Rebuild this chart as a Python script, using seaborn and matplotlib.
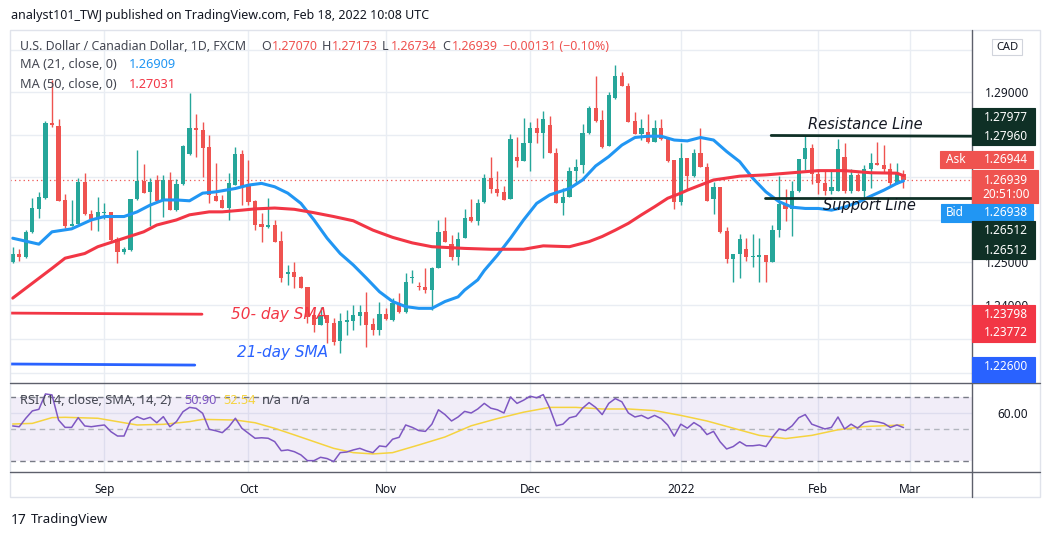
import numpy as np
import pandas as pd
import matplotlib
matplotlib.use("Agg")
import matplotlib.pyplot as plt
from matplotlib.patches import Rectangle
from matplotlib.lines import Line2D
import seaborn as sns

# DATA ===========================================================================================================

dates = pd.bdate_range("2021-08-12", "2022-02-18")

opens = [1.2499, 1.2520, 1.2512, 1.2570, 1.2625, 1.2650, 1.2826, 1.2820, 1.2645, 1.2585,
         1.2589, 1.2689, 1.2612, 1.2601, 1.2616, 1.2617, 1.2554, 1.2524, 1.2528, 1.2648,
         1.2691, 1.2664, 1.2693, 1.2644, 1.2693, 1.2622, 1.2683, 1.2754, 1.2815, 1.2810,
         1.2771, 1.2656, 1.2646, 1.2628, 1.2681, 1.2753, 1.2679, 1.2644, 1.2589, 1.2582,
         1.2587, 1.2549, 1.2472, 1.2477, 1.2465, 1.2442, 1.2375, 1.2352, 1.2375, 1.2356,
         1.2313, 1.2360, 1.2362, 1.2374, 1.2383, 1.2354, 1.2340, 1.2378, 1.2364, 1.2403,
         1.2383, 1.2462, 1.2444, 1.2442, 1.2433, 1.2485, 1.2573, 1.2542, 1.2511, 1.2556,
         1.2605, 1.2597, 1.2642, 1.2697, 1.2672, 1.2664, 1.2648, 1.2746, 1.2738, 1.2779,
         1.2815, 1.2804, 1.2822, 1.2756, 1.2638, 1.2652, 1.2713, 1.2728, 1.2803, 1.2862,
         1.2834, 1.2773, 1.2887, 1.2938, 1.2914, 1.2832, 1.2801, 1.2805, 1.2783, 1.2815,
         1.2789, 1.2740, 1.2642, 1.2744, 1.2702, 1.2756, 1.2724, 1.2648, 1.2676, 1.2573,
         1.2506, 1.2520, 1.2531, 1.2511, 1.2511, 1.2517, 1.2501, 1.2575, 1.2636, 1.2624,
         1.2667, 1.2742, 1.2768, 1.2707, 1.2685, 1.2666, 1.2666, 1.2746, 1.2666, 1.2705,
         1.2668, 1.2718, 1.2734, 1.2728, 1.2718, 1.2685, 1.27070]
highs = [1.2535, 1.2531, 1.2575, 1.2650, 1.2664, 1.2832, 1.2928, 1.2836, 1.2661, 1.2646,
         1.2697, 1.2709, 1.2622, 1.2654, 1.2640, 1.2618, 1.2560, 1.2536, 1.2648, 1.2764,
         1.2730, 1.2697, 1.2705, 1.2705, 1.2711, 1.2695, 1.2775, 1.2898, 1.2848, 1.2830,
         1.2799, 1.2732, 1.2658, 1.2709, 1.2771, 1.2764, 1.2740, 1.2646, 1.2615, 1.2650,
         1.2600, 1.2573, 1.2493, 1.2499, 1.2466, 1.2442, 1.2387, 1.2395, 1.2375, 1.2368,
         1.2381, 1.2387, 1.2399, 1.2399, 1.2430, 1.2368, 1.2407, 1.2391, 1.2415, 1.2427,
         1.2473, 1.2481, 1.2454, 1.2485, 1.2489, 1.2599, 1.2605, 1.2564, 1.2571, 1.2624,
         1.2648, 1.2648, 1.2707, 1.2748, 1.2713, 1.2679, 1.2801, 1.2793, 1.2838, 1.2830,
         1.2838, 1.2855, 1.2844, 1.2768, 1.2673, 1.2723, 1.2742, 1.2824, 1.2867, 1.2938,
         1.2858, 1.2901, 1.2964, 1.2948, 1.2922, 1.2854, 1.2836, 1.2848, 1.2834, 1.2836,
         1.2789, 1.2740, 1.2779, 1.2744, 1.2767, 1.2815, 1.2732, 1.2689, 1.2677, 1.2583,
         1.2520, 1.2566, 1.2557, 1.2565, 1.2556, 1.2517, 1.2587, 1.2702, 1.2671, 1.2691,
         1.2742, 1.2797, 1.2778, 1.2718, 1.2713, 1.2716, 1.2789, 1.2781, 1.2718, 1.2709,
         1.2728, 1.2756, 1.2783, 1.2775, 1.2734, 1.2734, 1.27173]
lows = [1.2497, 1.2502, 1.2510, 1.2568, 1.2603, 1.2648, 1.2817, 1.2643, 1.2581, 1.2585,
        1.2589, 1.2611, 1.2575, 1.2572, 1.2601, 1.2550, 1.2497, 1.2520, 1.2527, 1.2646,
        1.2663, 1.2585, 1.2644, 1.2607, 1.2622, 1.2620, 1.2681, 1.2752, 1.2748, 1.2701,
        1.2638, 1.2644, 1.2626, 1.2599, 1.2681, 1.2634, 1.2634, 1.2575, 1.2548, 1.2580,
        1.2548, 1.2454, 1.2446, 1.2438, 1.2438, 1.2356, 1.2336, 1.2352, 1.2309, 1.2305,
        1.2285, 1.2328, 1.2339, 1.2352, 1.2301, 1.2328, 1.2328, 1.2364, 1.2362, 1.2379,
        1.2381, 1.2450, 1.2434, 1.2428, 1.2387, 1.2485, 1.2546, 1.2505, 1.2493, 1.2556,
        1.2595, 1.2587, 1.2640, 1.2663, 1.2655, 1.2646, 1.2648, 1.2724, 1.2738, 1.2715,
        1.2781, 1.2745, 1.2756, 1.2638, 1.2611, 1.2652, 1.2685, 1.2709, 1.2801, 1.2830,
        1.2768, 1.2773, 1.2883, 1.2913, 1.2830, 1.2801, 1.2787, 1.2781, 1.2783, 1.2787,
        1.2736, 1.2624, 1.2634, 1.2669, 1.2701, 1.2724, 1.2644, 1.2613, 1.2569, 1.2497,
        1.2454, 1.2462, 1.2503, 1.2489, 1.2452, 1.2454, 1.2501, 1.2558, 1.2597, 1.2561,
        1.2664, 1.2717, 1.2684, 1.2660, 1.2658, 1.2660, 1.2666, 1.2662, 1.2663, 1.2666,
        1.2646, 1.2673, 1.2728, 1.2709, 1.2677, 1.2684, 1.26734]
closes = [1.2520, 1.2512, 1.2570, 1.2626, 1.2652, 1.2826, 1.2822, 1.2644, 1.2585, 1.2589,
          1.2688, 1.2612, 1.2601, 1.2618, 1.2618, 1.2552, 1.2524, 1.2531, 1.2648, 1.2691,
          1.2663, 1.2688, 1.2644, 1.2693, 1.2622, 1.2683, 1.2773, 1.2815, 1.2810, 1.2769,
          1.2658, 1.2644, 1.2628, 1.2685, 1.2753, 1.2676, 1.2642, 1.2587, 1.2582, 1.2587,
          1.2548, 1.2463, 1.2477, 1.2464, 1.2440, 1.2371, 1.2352, 1.2375, 1.2356, 1.2311,
          1.2361, 1.2364, 1.2375, 1.2383, 1.2352, 1.2340, 1.2378, 1.2365, 1.2403, 1.2383,
          1.2452, 1.2465, 1.2441, 1.2433, 1.2485, 1.2571, 1.2548, 1.2511, 1.2555, 1.2603,
          1.2597, 1.2638, 1.2697, 1.2671, 1.2663, 1.2646, 1.2789, 1.2738, 1.2779, 1.2815,
          1.2804, 1.2836, 1.2756, 1.2638, 1.2652, 1.2713, 1.2723, 1.2803, 1.2862, 1.2832,
          1.2770, 1.2893, 1.2938, 1.2913, 1.2830, 1.2801, 1.2815, 1.2783, 1.2815, 1.2789,
          1.2738, 1.2642, 1.2744, 1.2702, 1.2756, 1.2724, 1.2644, 1.2676, 1.2571, 1.2506,
          1.2520, 1.2554, 1.2511, 1.2513, 1.2517, 1.2501, 1.2575, 1.2636, 1.2624, 1.2667,
          1.2742, 1.2768, 1.2707, 1.2685, 1.2666, 1.2676, 1.2765, 1.2666, 1.2705, 1.2668,
          1.2718, 1.2734, 1.2728, 1.2718, 1.2685, 1.2709, 1.26939]

# moving averages as drawn on the chart (bar number, value)
ma21_day = [0, 4, 6, 9, 12, 14, 17, 19, 21, 23, 25, 27, 29, 31, 34, 36, 38, 40, 42, 44, 46, 48, 50,
            52, 54, 56, 58, 60, 62, 64, 66, 68, 69, 71, 72, 74, 76, 78, 80, 82, 85, 87, 89, 91, 93,
            95, 97, 99, 101, 103, 105, 107, 109, 111, 113, 115, 117, 119, 121, 123, 125, 127, 129,
            131, 133, 135, 136]
ma21 = [1.2556, 1.2542, 1.2571, 1.2578, 1.2599, 1.2607, 1.2607, 1.2618, 1.2634, 1.2646, 1.2646,
        1.2644, 1.2662, 1.2665, 1.2673, 1.2681, 1.2685, 1.2677, 1.2662, 1.2638, 1.2599, 1.2556,
        1.2520, 1.2493, 1.2462, 1.2430, 1.2407, 1.2395, 1.2391, 1.2391, 1.2407, 1.2418, 1.2434,
        1.2458, 1.2480, 1.2516, 1.2556, 1.2599, 1.2638, 1.2658, 1.2673, 1.2693, 1.2726, 1.2748,
        1.2775, 1.2793, 1.2796, 1.2796, 1.2787, 1.2785, 1.2793, 1.2787, 1.2760, 1.2736, 1.2697,
        1.2665, 1.2642, 1.2629, 1.2626, 1.2626, 1.2622, 1.2629, 1.2640, 1.2655, 1.2669, 1.2685,
        1.26909]
ma50_day = [0, 3, 6, 8, 11, 13, 17, 20, 22, 25, 27, 30, 32, 35, 37, 40, 43, 46, 49, 52, 55, 58,
            61, 64, 69, 73, 78, 81, 85, 88, 90, 92, 94, 96, 98, 100, 102, 103, 107, 111, 115, 119,
            123, 127, 131, 135, 136]
ma50 = [1.2415, 1.2450, 1.2485, 1.2509, 1.2520, 1.2536, 1.2556, 1.2571, 1.2587, 1.2599, 1.2611,
        1.2618, 1.2618, 1.2622, 1.2625, 1.2627, 1.2624, 1.2616, 1.2607, 1.2597, 1.2575, 1.2558,
        1.2545, 1.2536, 1.2532, 1.2530, 1.2530, 1.2538, 1.2536, 1.2548, 1.2560, 1.2575, 1.2591,
        1.2611, 1.2630, 1.2650, 1.2662, 1.2669, 1.2693, 1.2702, 1.2705, 1.2710, 1.2715, 1.2715,
        1.2710, 1.2709, 1.27031]

rsi = [51.9, 51.4, 56.7, 61.3, 62.3, 71.9, 71.3, 55.6, 51.0, 51.0,
       57.1, 51.9, 51.4, 52.0, 52.5, 48.3, 45.6, 45.6, 55.2, 57.7,
       56.0, 57.3, 53.9, 57.7, 51.4, 54.6, 60.8, 63.5, 62.9, 59.8,
       49.8, 48.9, 47.7, 51.4, 56.7, 50.4, 47.3, 44.2, 44.5, 44.2,
       42.1, 36.4, 36.9, 35.8, 33.8, 30.2, 30.2, 32.3, 31.5, 29.6,
       35.2, 35.6, 36.9, 37.9, 36.3, 35.2, 39.4, 38.9, 43.6, 44.8,
       52.5, 51.0, 49.0, 48.5, 53.0, 62.0, 59.0, 55.0, 57.5, 61.0,
       60.0, 62.5, 66.0, 63.0, 62.0, 60.0, 70.0, 66.0, 68.0, 70.5,
       69.5, 71.5, 63.0, 52.0, 53.0, 57.0, 58.0, 63.0, 66.5, 63.5,
       59.0, 66.0, 69.0, 67.0, 60.0, 57.5, 58.5, 56.5, 58.5, 56.5,
       52.5, 45.5, 53.0, 50.5, 54.0, 51.5, 46.5, 48.5, 42.0, 37.5,
       39.0, 42.0, 39.5, 39.5, 40.0, 39.0, 45.0, 50.0, 49.0, 52.0,
       57.0, 59.0, 53.0, 51.5, 50.0, 51.0, 57.5, 50.0, 53.0, 50.5,
       54.0, 55.0, 54.5, 53.5, 51.0, 52.5, 50.9]
rsi_ma_day = [0, 3, 6, 8, 13, 16, 19, 23, 27, 29, 34, 37, 40, 43, 46, 49, 52, 55, 58, 62, 66, 70,
              74, 78, 82, 86, 90, 94, 98, 102, 106, 110, 114, 118, 122, 126, 130, 136]
rsi_ma = [53.1, 53.5, 57.1, 57.3, 56.7, 54.6, 52.5, 52.9, 54.6, 56.0, 55.6, 53.9, 50.4, 46.3,
          42.1, 37.9, 35.2, 34.4, 35.2, 40.0, 45.0, 52.0, 56.5, 60.5, 63.5, 63.5, 62.5, 62.5,
          61.5, 58.5, 55.0, 50.5, 46.0, 44.0, 46.0, 49.5, 51.5, 52.54]

month_labels = ["Sep", "Oct", "Nov", "Dec", "2022", "Feb", "Mar"]
month_starts = ["2021-09-01", "2021-10-01", "2021-11-01", "2021-12-01", "2022-01-03", "2022-02-01", "2022-03-01"]
price_ticks = [1.30, 1.29, 1.28, 1.27, 1.26, 1.25, 1.24, 1.232, 1.224]
price_tick_labels = ["", "1.29000", "", "", "", "1.25000", "1.24000", "", ""]

resistance = [1.27977, 1.27960]
support = [1.26512, 1.26512]
sma50_mark = [1.23798, 1.23772]
sma21_mark = [1.22600, 1.22575]
last_price = 1.26939

# STYLE ==========================================================================================================

GREEN = "#26a69a"
RED = "#ef5350"
MA_RED = "#f23645"
MA_BLUE = "#2196f3"
DARK = "#0f3026"
PURPLE = "#7e57c2"
YELLOW = "#f5d33f"
GRID = "#e9edf3"
TXT = "#131722"
GREY = "#434651"
AXLINE = "#5d606b"

sns.set_theme(style="white")
plt.rcParams["font.family"] = ["Noto Sans", "DejaVu Sans"]

W, H = 1052, 539
fig = plt.figure(figsize=(W / 100, H / 100), dpi=100)


def fx(x):
    return x / W


def fy(y):
    return 1 - y / H


ax = fig.add_axes([fx(10), fy(383), fx(972) - fx(10), fy(30) - fy(383)])
ax_rsi = fig.add_axes([fx(10), fy(472), fx(972) - fx(10), fy(383) - fy(472)], sharex=ax)

df = pd.DataFrame({"date": dates, "open": opens, "high": highs, "low": lows, "close": closes})
df["n"] = np.arange(len(df))
up = df["close"] >= df["open"]
colors = np.where(up, GREEN, RED)

month_pos = [int(np.sum(dates < pd.Timestamp(m))) for m in month_starts]

# PRICE PANEL ====================================================================================================

ax.vlines(df["n"], df["low"], df["high"], colors=colors, lw=1, zorder=3)
body = (df["close"] - df["open"]).abs().clip(lower=0.00025)
ax.bar(df["n"], body, bottom=np.minimum(df["open"], df["close"]), width=0.64, color=colors,
       lw=0, zorder=4)

sns.lineplot(x=ma21_day, y=ma21, color=MA_BLUE, lw=2.2, ax=ax, zorder=5)
sns.lineplot(x=ma50_day, y=ma50, color=MA_RED, lw=2.2, ax=ax, zorder=5)

ax.axhline(last_price, color=RED, ls=(0, (1, 2.5)), lw=0.9, zorder=2)

ax.plot([115.8, 146.5], resistance, color=DARK, lw=2, zorder=6, clip_on=False)
ax.plot([114.9, 146.5], support, color=DARK, lw=2, zorder=6, clip_on=False)
ax.plot([-0.4, 28.9], sma50_mark, color=MA_RED, lw=2, zorder=6)
ax.plot([-0.4, 27.8], sma21_mark, color="#2962ff", lw=2, zorder=6)

ax.text(121.4, 1.2824, "Resistance Line", style="italic", fontsize=10.5, color=TXT,
        family="DejaVu Sans", va="center", zorder=7)
ax.text(123.7, 1.2633, "Support Line", style="italic", fontsize=10.5, color=TXT,
        family="DejaVu Sans", va="center", zorder=7)
ax.text(33.3, 1.2377, "50- day SMA", style="italic", fontsize=11, color=MA_RED,
        family="DejaVu Sans", va="center", zorder=7)
ax.text(34.2, 1.2286, "21-day SMA", style="italic", fontsize=11, color="#2962ff",
        family="DejaVu Sans", va="center", zorder=7)

ax.set_xlim(-0.41, 146.46)
ax.set_ylim(1.22153, 1.30459)
ax.set_xticks(month_pos)
ax.set_yticks(price_ticks)
ax.set_yticklabels(price_tick_labels)
ax.yaxis.tick_right()
ax.tick_params(axis="y", length=0, pad=9, labelsize=8.5, labelcolor=TXT)
ax.tick_params(axis="x", length=0, labelbottom=False)
ax.grid(True, color=GRID, lw=1)
for s in ax.spines.values():
    s.set_visible(False)
ax.set_xlabel("")
ax.set_ylabel("")

# RSI PANEL ======================================================================================================

ax_rsi.axhspan(30, 70, color=PURPLE, alpha=0.1, lw=0, zorder=1)
ax_rsi.axhline(70, color="#787b86", ls=(0, (4, 3)), lw=1, zorder=2)
ax_rsi.axhline(50, color="#b2b5be", ls=(0, (4, 3)), lw=1, zorder=2)
ax_rsi.axhline(30, color="#787b86", ls=(0, (4, 3)), lw=1, zorder=2)
sns.lineplot(x=df["n"], y=rsi, color=PURPLE, lw=1.1, ax=ax_rsi, zorder=4)
sns.lineplot(x=rsi_ma_day, y=rsi_ma, color=YELLOW, lw=1.1, ax=ax_rsi, zorder=3)
ax_rsi.set_ylim(23.1, 78.75)
ax_rsi.set_yticks([60])
ax_rsi.set_yticklabels(["60.00"])
ax_rsi.yaxis.tick_right()
ax_rsi.tick_params(axis="y", length=0, pad=18, labelsize=8.5, labelcolor=TXT)
ax_rsi.set_xticks(month_pos)
ax_rsi.set_xticklabels(month_labels)
ax_rsi.tick_params(axis="x", length=0, pad=8, labelsize=8.5, labelcolor=TXT)
ax_rsi.grid(True, color=GRID, lw=1)
for s in ax_rsi.spines.values():
    s.set_visible(False)
ax_rsi.set_xlabel("")
ax_rsi.set_ylabel("")

# FRAME LINES ====================================================================================================

fig.add_artist(Rectangle((fx(10), fy(497)), fx(1040) - fx(10), fy(30) - fy(497), fill=False,
                         ec="#e0e3eb", lw=1, transform=fig.transFigure))
for y in (383, 472):
    fig.add_artist(Line2D([fx(10), fx(1040)], [fy(y), fy(y)], color=AXLINE, lw=1,
                          transform=fig.transFigure))
fig.add_artist(Line2D([fx(972), fx(972)], [fy(30), fy(497)], color=AXLINE, lw=1,
                      transform=fig.transFigure))

# PRICE LABEL BOXES ==============================================================================================


def box(x0, x1, y0, y1, color, ec=None):
    fig.add_artist(Rectangle((fx(x0), fy(y1)), fx(x1) - fx(x0), fy(y0) - fy(y1), fc=color,
                             ec=ec if ec else color, lw=0.8, transform=fig.transFigure, zorder=5))


def label(x, y, s, color="white", ha="center", size=8.5):
    fig.text(fx(x), fy(y), s, color=color, ha=ha, va="center", fontsize=size, zorder=6)


box(972, 1035, 108, 145, DARK)
label(1006, 117.5, "1.27977")
label(1006, 136, "1.27960")
box(940, 1033, 151, 168, RED)
label(946, 159.5, "Ask", ha="left")
label(1006, 159.5, "1.26944")
box(972, 1038, 170, 203, RED)
label(1006, 180, "1.26939")
label(1006, 194, "20:51:00")
box(941, 1033, 204, 222, MA_BLUE)
label(946, 213, "Bid", ha="left")
label(1006, 213, "1.26938")
box(972, 1035, 221, 259, DARK)
label(1006, 230, "1.26512")
label(1006, 250, "1.26512")
box(972, 1035, 305, 342, MA_RED)
label(1006, 314.5, "1.23798")
label(1006, 332.5, "1.23772")
box(972, 1035, 357, 382, "#2962ff")
label(1006, 366, "1.22600")
box(992, 1022, 39, 55, "white", ec="#d1d4dc")
label(1007, 47, "CAD", color=TXT, size=8)

# HEADER TEXTS ===================================================================================================

fig.text(fx(11), fy(16), "analyst101_TWJ published on TradingView.com, Feb 18, 2022 10:08 UTC",
         fontsize=9, color=TXT, va="center")
hdr_y = 46.5
fig.text(fx(20), fy(hdr_y), "U.S. Dollar / Canadian Dollar, 1D, FXCM", fontsize=8.9,
         color=GREY, va="center")
for x, s, c in [(261, "O", GREY), (272, "1.27070", RED), (322, "H", GREY),
                (332, "1.27173", RED), (382, "L", GREY), (391, "1.26734", RED),
                (442, "C", GREY), (452, "1.26939", RED), (503, "\u22120.00131 (\u22120.10%)", RED)]:
    fig.text(fx(x), fy(hdr_y), s, fontsize=9, color=c, va="center")
fig.text(fx(20), fy(65), "MA (21, close, 0)", fontsize=9.2, color=GREY, va="center")
fig.text(fx(129), fy(65), "1.26909", fontsize=9.2, color=MA_BLUE, va="center")
fig.text(fx(20), fy(84), "MA (50, close, 0)", fontsize=9.2, color=GREY, va="center")
fig.text(fx(129), fy(84), "1.27031", fontsize=9.2, color=MA_RED, va="center")

rsi_y = 400.5
fig.text(fx(20), fy(rsi_y), "RSI (14, close, SMA, 14, 2)", fontsize=9.2, color=GREY, va="center")
fig.text(fx(184), fy(rsi_y), "50.90", fontsize=9.2, color=PURPLE, va="center")
fig.text(fx(223), fy(rsi_y), "52.54", fontsize=9.2, color=YELLOW, va="center")
fig.text(fx(262), fy(rsi_y), "n/a", fontsize=9.2, color=GREY, va="center")
fig.text(fx(291), fy(rsi_y), "n/a", fontsize=9.2, color=GREY, va="center")

fig.text(fx(11), fy(520), "17", fontsize=10, fontweight="bold", color=TXT, va="center")
fig.text(fx(31), fy(520), "TradingView", fontsize=9.5, color=TXT, va="center")

fig.savefig("out.png", dpi=100, facecolor="white")
